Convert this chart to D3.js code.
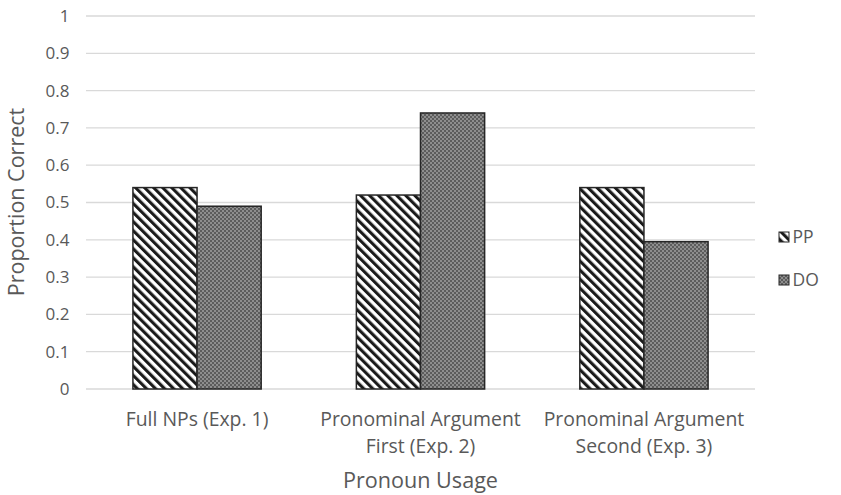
<!DOCTYPE html>
<html><head><meta charset="utf-8">
<script src="https://cdn.jsdelivr.net/npm/d3@7"></script>
<style>body{margin:0;background:#fff;} text{font-family:"Open Sans",sans-serif;fill:#595959;}</style>
</head><body>
<svg id="c" width="841" height="495"></svg>
<script>
const categories = [["Full NPs (Exp. 1)"], ["Pronominal Argument", "First (Exp. 2)"], ["Pronominal Argument", "Second (Exp. 3)"]];
const seriesNames = ["PP", "DO"];
const ppValues = [0.54, 0.52, 0.54];
const doValues = [0.49, 0.74, 0.395];
const yTicks = [0, 0.1, 0.2, 0.3, 0.4, 0.5, 0.6, 0.7, 0.8, 0.9, 1];
const yTickLabels = ["0", "0.1", "0.2", "0.3", "0.4", "0.5", "0.6", "0.7", "0.8", "0.9", "1"];

(function(){
const svg = d3.select("#c");
const pL = 86, pR = 755, pT = 16, pB = 389;
const x = d3.scaleBand().domain(d3.range(categories.length)).range([pL, pR]).paddingInner(0.426).paddingOuter(0.21);
const x1 = d3.scaleBand().domain(seriesNames).range([0, x.bandwidth()]);
const y = d3.scaleLinear().domain([0, 1]).range([pB, pT]);

const defs = svg.append("defs");
const hatch = defs.append("pattern").attr("id", "hatch").attr("patternUnits", "userSpaceOnUse")
  .attr("width", 6.4).attr("height", 6.4).attr("patternTransform", "rotate(-45)");
hatch.append("rect").attr("width", 6.4).attr("height", 6.4).attr("fill", "#fff");
hatch.append("rect").attr("width", 3.1).attr("height", 6.4).attr("fill", "#1a1a1a");
const dots = defs.append("pattern").attr("id", "dots").attr("patternUnits", "userSpaceOnUse")
  .attr("width", 4).attr("height", 4);
dots.append("rect").attr("width", 4).attr("height", 4).attr("fill", "#5c5c5c");
dots.append("rect").attr("x", 0).attr("y", 0).attr("width", 2).attr("height", 2).attr("fill", "#8e8e8e");
dots.append("rect").attr("x", 2).attr("y", 2).attr("width", 2).attr("height", 2).attr("fill", "#8e8e8e");
const fills = {PP: "url(#hatch)", DO: "url(#dots)"};

svg.append("g").selectAll("line").data(yTicks).join("line")
  .attr("x1", pL).attr("x2", pR).attr("y1", d => y(d)).attr("y2", d => y(d))
  .attr("stroke", "#d9d9d9").attr("stroke-width", 1.3);

svg.append("g").selectAll("text").data(yTicks).join("text")
  .attr("x", 69.5).attr("y", d => y(d)).attr("dy", "0.35em").attr("text-anchor", "end")
  .attr("font-size", 17).text((d, i) => yTickLabels[i]);

const data = [];
categories.forEach((c, i) => {
  data.push({i, s: "PP", v: ppValues[i]});
  data.push({i, s: "DO", v: doValues[i]});
});
svg.append("g").selectAll("rect").data(data).join("rect")
  .attr("x", d => x(d.i) + x1(d.s)).attr("width", x1.bandwidth())
  .attr("y", d => y(d.v)).attr("height", d => y(0) - y(d.v))
  .attr("fill", d => fills[d.s]).attr("stroke", "#262626").attr("stroke-width", 1.5);

const cl = svg.append("g").selectAll("text").data(categories).join("text")
  .attr("text-anchor", "middle").attr("font-size", 19.4);
cl.each(function(lines, i) {
  d3.select(this).selectAll("tspan").data(lines).join("tspan")
    .attr("x", x(i) + x.bandwidth() / 2).attr("y", (d, j) => 426 + j * 27).text(d => d);
});

svg.append("text").attr("x", (pL + pR) / 2).attr("y", 488).attr("text-anchor", "middle")
  .attr("font-size", 21.6).text("Pronoun Usage");
svg.append("text").attr("transform", "translate(24," + 202 + ") rotate(-90)")
  .attr("text-anchor", "middle").attr("font-size", 21.5).text("Proportion Correct");

const lg = svg.append("g").selectAll("g").data(seriesNames).join("g")
  .attr("transform", (d, i) => "translate(779," + (232 + i * 43) + ")");
lg.append("rect").attr("width", 10).attr("height", 10).attr("fill", d => fills[d])
  .attr("stroke", "#262626").attr("stroke-width", 1);
lg.append("text").attr("x", 13.5).attr("y", 5).attr("dy", "0.35em").attr("font-size", 17.5).text(d => d);
})();
</script>
</body></html>
